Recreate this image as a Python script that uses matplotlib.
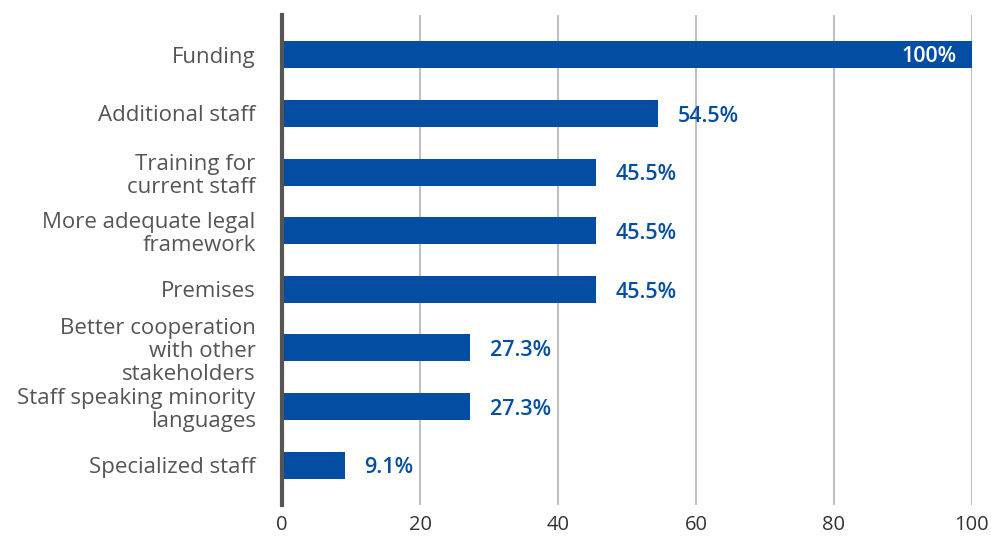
import matplotlib
matplotlib.use("Agg")
import matplotlib.pyplot as plt

categories = [
    "Funding",
    "Additional staff",
    "Training for\ncurrent staff",
    "More adequate legal\nframework",
    "Premises",
    "Better cooperation\nwith other\nstakeholders",
    "Staff speaking minority\nlanguages",
    "Specialized staff",
]
values = [100, 54.5, 45.5, 45.5, 45.5, 27.3, 27.3, 9.1]
labels = ["100%", "54.5%", "45.5%", "45.5%", "45.5%", "27.3%", "27.3%", "9.1%"]
xticks = [0, 20, 40, 60, 80, 100]

bar_color = "#034EA2"
text_color = "#555555"

plt.rcParams["font.family"] = ["Open Sans", "DejaVu Sans"]

fig = plt.figure(figsize=(9.91, 5.36), dpi=100)
ax = fig.add_axes([0.2846, 0.0578, 0.6962, 0.9142])

ypos = list(range(len(categories)))
ax.barh(ypos, values, height=0.46, color=bar_color, zorder=3)

for y, v, lab in zip(ypos, values, labels):
    if v >= 90:
        ax.annotate(lab, (v, y), xytext=(-11, -1), textcoords="offset points",
                    ha="right", va="center", color="white",
                    fontsize=15.5, fontweight="semibold", zorder=4)
    else:
        ax.annotate(lab, (v, y), xytext=(14, -2), textcoords="offset points",
                    ha="left", va="center", color=bar_color,
                    fontsize=15.5, fontweight="semibold", zorder=4)

ax.set_xlim(0, 100)
ax.set_ylim(len(categories) - 1 + 0.68, -0.68)
ax.set_yticks(ypos)
ax.set_yticklabels(categories, fontsize=16, color=text_color,
                   linespacing=1.12)
ax.set_xticks(xticks)
ax.set_xticklabels([str(t) for t in xticks], fontsize=14.5, color="#333333")
ax.tick_params(axis="y", length=0, pad=19)
ax.tick_params(axis="x", length=0, pad=7)

ax.grid(axis="x", color="#c0c0c0", linewidth=1.5, zorder=0)
for side in ["top", "right", "bottom"]:
    ax.spines[side].set_visible(False)
ax.spines["left"].set_color("#555555")
ax.spines["left"].set_linewidth(3)
ax.spines["left"].set_zorder(5)

fig.savefig("out.png", dpi=100)
